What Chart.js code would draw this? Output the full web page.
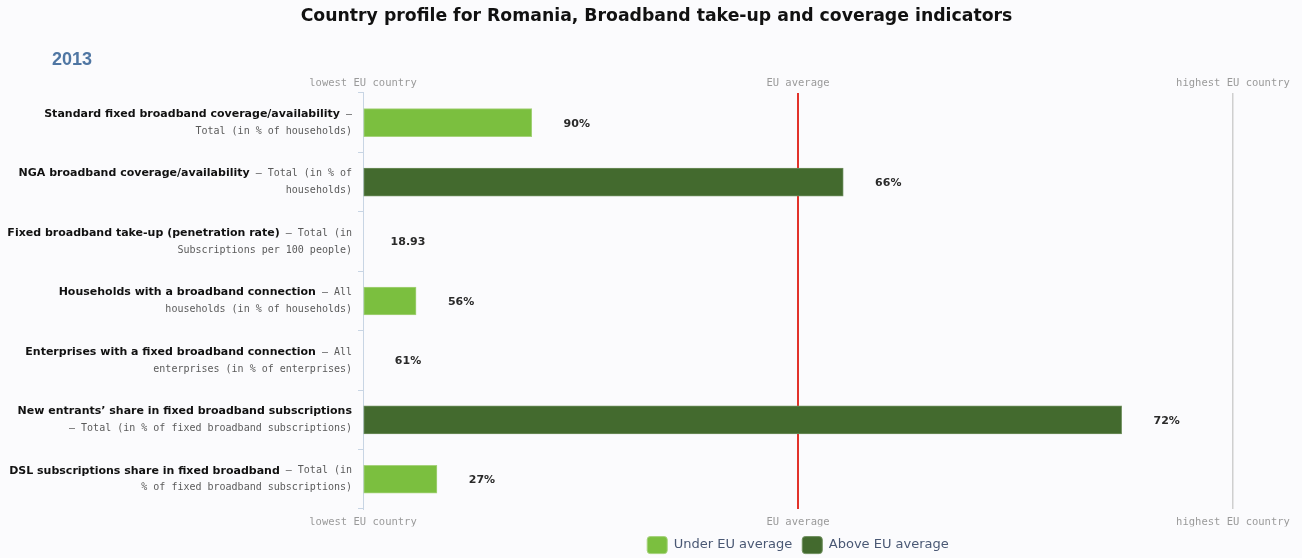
<!DOCTYPE html>
<html>
<head>
<meta charset="utf-8">
<title>Country profile for Romania</title>
<script src="https://cdn.jsdelivr.net/npm/chart.js@4/dist/chart.umd.min.js"></script>
<style>
  html, body { margin: 0; padding: 0; background: #fbfbfd; }
  #wrap { width: 1302px; height: 558px; }
</style>
</head>
<body>
<div id="wrap"><canvas id="chart"></canvas></div>
<script>
const indicatorNames = [
    'Standard fixed broadband coverage/availability',
    'NGA broadband coverage/availability',
    'Fixed broadband take-up (penetration rate)',
    'Households with a broadband connection',
    'Enterprises with a fixed broadband connection',
    'New entrants\u2019 share in fixed broadband subscriptions',
    'DSL subscriptions share in fixed broadband'
];
// the part after \n goes on the second line
const indicatorNotes = [
    ' \u2014\nTotal (in % of households)',
    ' \u2014 Total (in % of\nhouseholds)',
    ' \u2014 Total (in\nSubscriptions per 100 people)',
    ' \u2014 All\nhouseholds (in % of households)',
    ' \u2014 All\nenterprises (in % of enterprises)',
    '\n\u2014 Total (in % of fixed broadband subscriptions)',
    ' \u2014 Total (in\n% of fixed broadband subscriptions)'
];
// Romania's place between lowest EU country (0) and highest EU country (100), EU average at 50
const relativePosition = [19.4, 55.2, 0, 6.1, 0, 87.2, 8.5];
const valueLabels = ['90%', '66%', '18.93', '56%', '61%', '72%', '27%'];
const axisMarks = ['lowest EU country', 'EU average', 'highest EU country'];
const seriesNames = ['Under EU average', 'Above EU average'];
const yearLabel = '2013';
const euAverage = 50;

const lightGreen = '#7bbf3f';
const darkGreen = '#436a2e';
const boldFont = 'bold 11px "DejaVu Sans", sans-serif';
const noteFont = '10px "DejaVu Sans Mono", monospace';
const valueFont = 'bold 11px "DejaVu Sans", sans-serif';

const under = relativePosition.map(v => v < euAverage ? v : null);
const above = relativePosition.map(v => v >= euAverage ? v : null);

// row captions (bold name + grey note), value labels and the year
const extraText = {
    id: 'extraText',
    afterDraw(chart) {
        const ctx = chart.ctx;
        const yScale = chart.scales.y;
        const xScale = chart.scales.x;
        const right = chart.chartArea.left - 11;
        ctx.save();
        ctx.textBaseline = 'middle';
        indicatorNames.forEach((name, i) => {
            const cy = yScale.getPixelForValue(i);
            const parts = indicatorNotes[i].split('\n');
            ctx.textAlign = 'right';
            ctx.font = noteFont;
            ctx.fillStyle = '#5a5a5a';
            const w = ctx.measureText(parts[0]).width;
            ctx.fillText(parts[0], right, cy - 8.5);
            ctx.fillText(parts[1], right, cy + 8.5);
            ctx.font = boldFont;
            ctx.fillStyle = '#111';
            ctx.fillText(name, right - w, cy - 8.5);

            const end = xScale.getPixelForValue(relativePosition[i]);
            ctx.textAlign = 'center';
            ctx.font = valueFont;
            ctx.fillStyle = '#2a2a2a';
            ctx.fillText(valueLabels[i], end + 45, cy + 1);
        });
        ctx.textAlign = 'left';
        ctx.font = 'bold 18px "Liberation Sans", Arial, sans-serif';
        ctx.fillStyle = '#4f76a3';
        ctx.fillText(yearLabel, 52, 60);
        ctx.restore();
    }
};

const markTicks = {
    min: 0,
    max: 100,
    border: { display: false }
};
const markTickLabels = {
    stepSize: 50,
    color: '#9a9a9a',
    font: { family: '"DejaVu Sans Mono", monospace', size: 10.5 },
    maxRotation: 0,
    callback: (v) => axisMarks[v / 50]
};

new Chart(document.getElementById('chart'), {
    type: 'bar',
    data: {
        labels: indicatorNames,
        datasets: [
            {
                label: seriesNames[0],
                data: under,
                backgroundColor: lightGreen,
                borderColor: '#a6d27c',
                borderWidth: 1,
                borderSkipped: false,
                barThickness: 28,
                grouped: false
            },
            {
                label: seriesNames[1],
                data: above,
                backgroundColor: darkGreen,
                borderColor: '#6f8f5e',
                borderWidth: 1,
                borderSkipped: false,
                barThickness: 28,
                grouped: false
            }
        ]
    },
    options: {
        indexAxis: 'y',
        responsive: true,
        maintainAspectRatio: false,
        animation: false,
        layout: { padding: { left: 11, right: 0, top: 0, bottom: -5.6 } },
        plugins: {
            title: {
                display: true,
                text: 'Country profile for Romania, Broadband take-up and coverage indicators',
                color: '#111',
                font: { family: '"DejaVu Sans", sans-serif', size: 17.3, weight: 'bold' },
                padding: { top: 6, bottom: 47.6 }
            },
            legend: {
                position: 'bottom',
                fullSize: false,
                labels: {
                    boxWidth: 20,
                    boxHeight: 17,
                    useBorderRadius: true,
                    borderRadius: 3,
                    padding: 10,
                    color: '#4a5874',
                    font: { family: '"DejaVu Sans", sans-serif', size: 13 }
                }
            },
            tooltip: { enabled: false }
        },
        scales: {
            x: Object.assign({}, markTicks, {
                position: 'bottom',
                ticks: Object.assign({ padding: 7 }, markTickLabels),
                grid: {
                    drawTicks: false,
                    color: (c) => c.tick.value === euAverage ? '#e2332a' : (c.tick.value === 100 ? '#cfcfcf' : 'rgba(0,0,0,0)'),
                    lineWidth: (c) => c.tick.value === euAverage ? 2 : 1.5
                },
                // room on the right for "highest EU country"
                afterFit: (scale) => { scale.paddingLeft = 0; scale.paddingRight = 69; scale.height -= 9; }
            }),
            xTop: Object.assign({}, markTicks, {
                position: 'top',
                axis: 'x',
                ticks: Object.assign({ padding: 3 }, markTickLabels),
                grid: { display: false, drawTicks: false },
                afterFit: (scale) => { scale.paddingLeft = 0; scale.paddingRight = 69; }
            }),
            y: {
                ticks: { display: false },
                grid: { drawOnChartArea: false, offset: true, tickLength: 5, color: '#c8d5e4' },
                border: { color: '#c8d5e4' },
                afterFit: (scale) => { scale.width = 352; }
            }
        }
    },
    plugins: [extraText]
});
</script>
</body>
</html>
